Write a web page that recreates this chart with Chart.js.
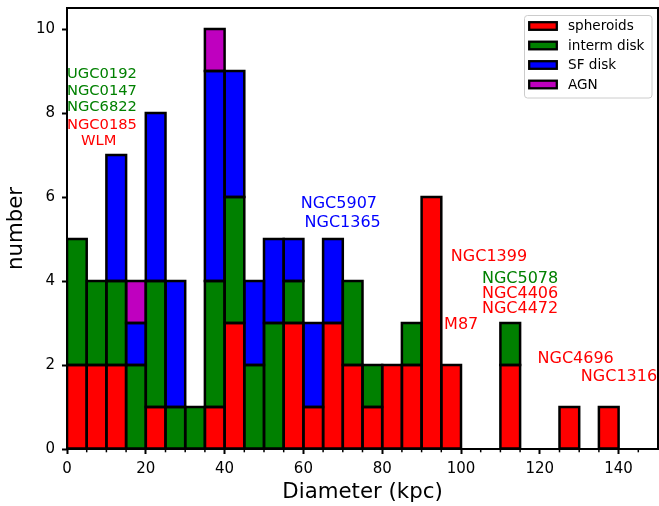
<!DOCTYPE html>
<html>
<head>
<meta charset="utf-8">
<script src="https://cdn.jsdelivr.net/npm/chart.js@4.4.0/dist/chart.umd.min.js"></script>
<style>
  html, body { margin: 0; padding: 0; background: #ffffff; }
  canvas { display: block; }
</style>
</head>
<body>
<canvas id="c" width="659" height="506"></canvas>
<script>
// ---- data (histogram bins of 5 kpc, counts per class) ----
const binCenters = [2.5, 7.5, 12.5, 17.5, 22.5, 27.5, 32.5, 37.5, 42.5, 47.5,
                    52.5, 57.5, 62.5, 67.5, 72.5, 77.5, 82.5, 87.5, 92.5, 97.5,
                    102.5, 107.5, 112.5, 117.5, 122.5, 127.5, 132.5, 137.5];
const spheroids = [2, 2, 2, 0, 1, 0, 0, 1, 3, 0,
                   0, 3, 1, 3, 2, 1, 2, 2, 6, 2,
                   0, 0, 2, 0, 0, 1, 0, 1];
const intermDisk = [3, 2, 2, 2, 3, 1, 1, 3, 3, 2,
                    3, 1, 0, 0, 2, 1, 0, 1, 0, 0,
                    0, 0, 1, 0, 0, 0, 0, 0];
const sfDisk = [0, 0, 3, 1, 4, 3, 0, 5, 3, 2,
                2, 1, 2, 2, 0, 0, 0, 0, 0, 0,
                0, 0, 0, 0, 0, 0, 0, 0];
const agn = [0, 0, 0, 1, 0, 0, 0, 1, 0, 0,
             0, 0, 0, 0, 0, 0, 0, 0, 0, 0,
             0, 0, 0, 0, 0, 0, 0, 0];
const seriesNames = ['spheroids', 'interm disk', 'SF disk', 'AGN'];
const seriesColors = ['#ff0000', '#008000', '#0000ff', '#bf00bf'];
const xMajorTicks = [0, 20, 40, 60, 80, 100, 120, 140];
const xMinorTicks = [5, 10, 15, 25, 30, 35, 45, 50, 55, 65, 70, 75, 85, 90, 95,
                     105, 110, 115, 125, 130, 135, 145];
const yTicks = [0, 2, 4, 6, 8, 10];

// ---- galaxy name annotations (data coordinates) ----
const annoText = ['UGC0192', 'NGC0147', 'NGC6822', 'NGC0185', 'WLM',
                  'NGC5907', 'NGC1365', 'NGC1399', 'NGC5078', 'NGC4406', 'NGC4472',
                  'M87', 'NGC4696', 'NGC1316'];
const annoX = [8.87, 8.87, 8.87, 8.87, 8.04,
               69.0, 69.96, 107.1, 115.0, 115.0, 115.0,
               100.05, 129.1, 140.1];
const annoY = [8.93, 8.53, 8.13, 7.71, 7.32,
               5.83, 5.39, 4.58, 4.05, 3.69, 3.33,
               2.95, 2.14, 1.72];
const annoColor = ['#008000', '#008000', '#008000', '#ff0000', '#ff0000',
                   '#0000ff', '#0000ff', '#ff0000', '#008000', '#ff0000', '#ff0000',
                   '#ff0000', '#ff0000', '#ff0000'];
const annoSize = [14.7, 14.7, 14.7, 14.7, 14.7,
                  16, 16, 16, 16, 16, 16, 16, 16, 16];

const FONT = "'DejaVu Sans', sans-serif";
const allSeries = [spheroids, intermDisk, sfDisk, agn];

const datasets = allSeries.map((vals, i) => ({
  label: seriesNames[i],
  data: binCenters.map((x, j) => ({ x: x, y: vals[j] === 0 ? null : vals[j] })),
  backgroundColor: seriesColors[i],
  borderWidth: 0,
  barPercentage: 1.0,
  categoryPercentage: 1.0
}));

const helperPlugin = {
  id: 'helper',
  afterDatasetsDraw(chart) {
    const ctx = chart.ctx;
    const ca = chart.chartArea;
    ctx.save();
    ctx.beginPath();
    ctx.rect(ca.left, ca.top, ca.right - ca.left, ca.bottom - ca.top);
    ctx.clip();
    // bar outlines (centered on bar edges, like matplotlib)
    ctx.strokeStyle = '#000000';
    ctx.lineWidth = 2.5;
    ctx.lineJoin = 'miter';
    chart.data.datasets.forEach((ds, di) => {
      const meta = chart.getDatasetMeta(di);
      meta.data.forEach((el, j) => {
        if (ds.data[j].y === null) return;
        const p = el.getProps(['x', 'y', 'base', 'width'], true);
        const top = Math.min(p.y, p.base);
        const h = Math.abs(p.base - p.y);
        ctx.strokeRect(p.x - p.width / 2, top, p.width, h);
      });
    });
    ctx.restore();

    // annotations
    const xs = chart.scales.x, ys = chart.scales.y;
    ctx.save();
    ctx.textAlign = 'center';
    ctx.textBaseline = 'middle';
    annoText.forEach((t, i) => {
      ctx.font = annoSize[i] + 'px ' + FONT;
      ctx.fillStyle = annoColor[i];
      ctx.fillText(t, xs.getPixelForValue(annoX[i]), ys.getPixelForValue(annoY[i]));
    });
    ctx.restore();
  },
  afterDraw(chart) {
    const ctx = chart.ctx;
    const ca = chart.chartArea;
    const xs = chart.scales.x;
    ctx.save();
    // minor x ticks
    ctx.strokeStyle = '#000000';
    ctx.lineWidth = 1.5;
    xMinorTicks.forEach(v => {
      const px = xs.getPixelForValue(v);
      ctx.beginPath();
      ctx.moveTo(px, ca.bottom);
      ctx.lineTo(px, ca.bottom + 3.3);
      ctx.stroke();
    });
    // spines
    ctx.lineWidth = 2;
    ctx.strokeRect(ca.left, ca.top, ca.right - ca.left, ca.bottom - ca.top);

    // legend
    const lx = 524.5, ly = 15.5, lw = 127.5, lh = 82.5;
    ctx.beginPath();
    ctx.roundRect(lx, ly, lw, lh, 3);
    ctx.fillStyle = 'rgba(255,255,255,0.8)';
    ctx.fill();
    ctx.lineWidth = 1;
    ctx.strokeStyle = '#cccccc';
    ctx.stroke();
    ctx.font = '13.6px ' + FONT;
    ctx.textAlign = 'left';
    ctx.textBaseline = 'middle';
    seriesNames.forEach((name, i) => {
      const cy = 26 + i * 19.5;
      ctx.fillStyle = seriesColors[i];
      ctx.fillRect(529.2, cy - 3.8, 27.6, 7.6);
      ctx.lineWidth = 2.3;
      ctx.strokeStyle = '#000000';
      ctx.strokeRect(529.2, cy - 3.8, 27.6, 7.6);
      ctx.fillStyle = '#000000';
      ctx.fillText(name, 568, cy + 0.5);
    });
    ctx.restore();
  }
};

new Chart(document.getElementById('c'), {
  type: 'bar',
  data: { datasets: datasets },
  options: {
    responsive: false,
    animation: false,
    devicePixelRatio: 1,
    layout: { padding: { left: 0, top: 8, right: 1, bottom: 0 } },
    plugins: {
      legend: { display: false },
      tooltip: { enabled: false },
      title: { display: false }
    },
    scales: {
      x: {
        type: 'linear',
        stacked: true,
        offset: false,
        min: 0,
        max: 150,
        afterFit: s => { s.height = 57; s.paddingLeft = 0; s.paddingRight = 0; s.paddingTop = 0; s.paddingBottom = 0; },
        afterBuildTicks: s => { s.ticks = xMajorTicks.map(v => ({ value: v })); },
        grid: {
          display: true, offset: false, drawOnChartArea: false, drawTicks: true,
          tickLength: 5, tickWidth: 2, tickColor: '#000000'
        },
        border: { display: false },
        ticks: {
          font: { family: FONT, size: 15 },
          color: '#000000',
          padding: 6,
          maxRotation: 0,
          autoSkip: false
        },
        title: {
          display: true,
          text: 'Diameter (kpc)',
          font: { family: FONT, size: 21.3 },
          color: '#000000',
          padding: { top: 0, bottom: 1 }
        }
      },
      y: {
        type: 'linear',
        stacked: true,
        min: 0,
        max: 10.5,
        afterFit: s => { s.width = 67; s.paddingLeft = 0; s.paddingRight = 0; s.paddingTop = 0; s.paddingBottom = 0; },
        afterBuildTicks: s => { s.ticks = yTicks.map(v => ({ value: v })); },
        grid: {
          display: true, drawOnChartArea: false, drawTicks: true,
          tickLength: 5, tickWidth: 2, tickColor: '#000000'
        },
        border: { display: false },
        ticks: {
          font: { family: FONT, size: 15 },
          color: '#000000',
          padding: 7
        },
        title: {
          display: true,
          text: 'number',
          font: { family: FONT, size: 21.3 },
          color: '#000000',
          padding: { top: 4, bottom: 0 }
        }
      }
    }
  },
  plugins: [helperPlugin]
});
</script>
</body>
</html>
